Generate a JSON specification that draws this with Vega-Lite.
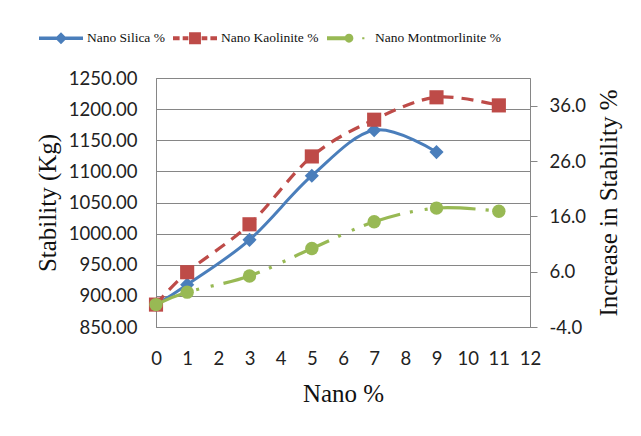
{
  "$schema": "https://vega.github.io/schema/vega-lite/v6.json",
  "width": 374,
  "height": 249,
  "autosize": {"type": "none"},
  "padding": {"left": 156, "top": 78, "right": 111, "bottom": 109},
  "background": "white",
  "config": {
    "view": {"stroke": "#868686", "strokeWidth": 1},
    "axis": {"labelFont": "Lato", "labelFontSize": 18.5, "labelColor": "#222222", "titleFont": "Liberation Serif", "titleFontSize": 25, "titleFontWeight": "normal", "titleColor": "#111111", "domainColor": "#868686", "tickColor": "#868686", "gridColor": "#868686"}
  },
  "data": {
    "values": [
      {"series": "Nano Silica %", "nano": 0, "stability": 886, "increase": 0},
      {"series": "Nano Silica %", "nano": 1, "stability": 918, "increase": 3.6},
      {"series": "Nano Silica %", "nano": 3, "stability": 990, "increase": 11.7},
      {"series": "Nano Silica %", "nano": 5, "stability": 1093, "increase": 23.4},
      {"series": "Nano Silica %", "nano": 7, "stability": 1166, "increase": 31.6},
      {"series": "Nano Silica %", "nano": 9, "stability": 1131, "increase": 27.7},
      {"series": "Nano Kaolinite %", "nano": 0, "stability": 886, "increase": 0},
      {"series": "Nano Kaolinite %", "nano": 1, "stability": 938, "increase": 5.9},
      {"series": "Nano Kaolinite %", "nano": 3, "stability": 1015, "increase": 14.6},
      {"series": "Nano Kaolinite %", "nano": 5, "stability": 1124, "increase": 26.9},
      {"series": "Nano Kaolinite %", "nano": 7, "stability": 1183, "increase": 33.5},
      {"series": "Nano Kaolinite %", "nano": 9, "stability": 1219, "increase": 37.6},
      {"series": "Nano Kaolinite %", "nano": 11, "stability": 1206, "increase": 36.1},
      {"series": "Nano Montmorlinite %", "nano": 0, "stability": 886, "increase": 0},
      {"series": "Nano Montmorlinite %", "nano": 1, "stability": 906, "increase": 2.3},
      {"series": "Nano Montmorlinite %", "nano": 3, "stability": 932, "increase": 5.2},
      {"series": "Nano Montmorlinite %", "nano": 5, "stability": 976, "increase": 10.2},
      {"series": "Nano Montmorlinite %", "nano": 7, "stability": 1019, "increase": 15.0},
      {"series": "Nano Montmorlinite %", "nano": 9, "stability": 1041, "increase": 17.5},
      {"series": "Nano Montmorlinite %", "nano": 11, "stability": 1036, "increase": 16.9}
    ]
  },
  "encoding": {
    "x": {
      "field": "nano", "type": "quantitative",
      "scale": {"domain": [0, 12], "nice": false, "zero": false},
      "axis": {"values": [0,1,2,3,4,5,6,7,8,9,10,11,12], "ticks": false, "labelPadding": 22, "grid": false, "title": "Nano %", "titlePadding": 14, "labelFlush": false}
    }
  },
  "layer": [
    {
      "encoding": {
        "y": {
          "field": "stability", "type": "quantitative",
          "scale": {"domain": [850, 1250], "nice": false, "zero": false},
          "axis": {"values": [850,900,950,1000,1050,1100,1150,1200,1250], "format": ".2f", "ticks": false, "labelPadding": 19, "grid": true, "title": "Stability (Kg)", "titlePadding": 8}
        }
      },
      "layer": [
        {
          "transform": [{"filter": "datum.series === 'Nano Silica %'"}],
          "mark": {"type": "line", "interpolate": "cardinal", "color": "#4A7EBB", "strokeWidth": 3}
        },
        {
          "transform": [{"filter": "datum.series === 'Nano Silica %'"}],
          "mark": {"type": "point", "shape": "diamond", "filled": true, "opacity": 1, "color": "#4A7EBB", "size": 200}
        },
        {
          "transform": [{"filter": "datum.series === 'Nano Kaolinite %'"}],
          "mark": {"type": "line", "interpolate": "cardinal", "color": "#BE4B48", "strokeWidth": 3.2, "strokeDash": [12, 8]}
        },
        {
          "transform": [{"filter": "datum.series === 'Nano Kaolinite %'"}],
          "mark": {"type": "point", "shape": "square", "filled": true, "opacity": 1, "color": "#BE4B48", "size": 200}
        },
        {
          "transform": [{"filter": "datum.series === 'Nano Montmorlinite %'"}],
          "mark": {"type": "line", "interpolate": "cardinal", "color": "#98B954", "strokeWidth": 3.2, "strokeDash": [38, 10, 3, 12, 3, 10], "strokeDashOffset": 5}
        },
        {
          "transform": [{"filter": "datum.series === 'Nano Montmorlinite %'"}],
          "mark": {"type": "point", "shape": "circle", "filled": true, "opacity": 1, "color": "#98B954", "size": 180}
        },
        {
          "transform": [{"filter": "datum.nano > 100"}],
          "mark": {"type": "point", "filled": true, "opacity": 1},
          "encoding": {
            "color": {
              "field": "series", "type": "nominal",
              "scale": {"domain": ["Nano Silica %", "Nano Kaolinite %", "Nano Montmorlinite %"], "range": ["#4A7EBB", "#BE4B48", "#98B954"]}
            },
            "shape": {
              "field": "series", "type": "nominal",
              "scale": {"domain": ["Nano Silica %", "Nano Kaolinite %", "Nano Montmorlinite %"], "range": [
                "M-1,-0.08H1V0.08H-1Z M0,-0.27L0.27,0L0,0.27L-0.27,0Z",
                "M-1,-0.09H-0.7V0.09H-1Z M-0.56,-0.09H-0.3V0.09H-0.56Z M-0.27,-0.27H0.27V0.27H-0.27Z M0.3,-0.09H0.56V0.09H0.3Z M0.7,-0.09H1V0.09H0.7Z",
                "M-1,-0.09H0V0.09H-1Z M-0.2,0A0.2,0.2 0 1,1 0.2,0A0.2,0.2 0 1,1 -0.2,0Z M0.6,-0.05H0.7V0.05H0.6Z"
              ]},
              "legend": {
                "orient": "none", "legendX": -117, "legendY": -62, "direction": "horizontal", "columns": 3,
                "title": null, "symbolSize": 1936, "symbolStrokeWidth": 0, "symbolOpacity": 1,
                "labelFont": "Liberation Serif", "labelFontSize": 13.5, "labelColor": "#111111", "labelOffset": 4, "columnPadding": 8
              }
            }
          }
        }
      ]
    },
    {
      "mark": {"type": "point", "opacity": 0},
      "encoding": {
        "y": {
          "field": "increase", "type": "quantitative",
          "scale": {"domain": [-4, 41], "nice": false, "zero": false},
          "axis": {"orient": "right", "values": [-4, 6, 16, 26, 36], "labelExpr": "datum.value < 0 ? '-' + format(-datum.value, '.1f') : format(datum.value, '.1f')", "tickSize": 7, "labelPadding": 12, "grid": false, "domain": false, "title": "Increase in Stability %", "titleAngle": 270, "titlePadding": 36}
        }
      }
    }
  ],
  "resolve": {"scale": {"y": "independent"}, "axis": {"y": "independent"}}
}
